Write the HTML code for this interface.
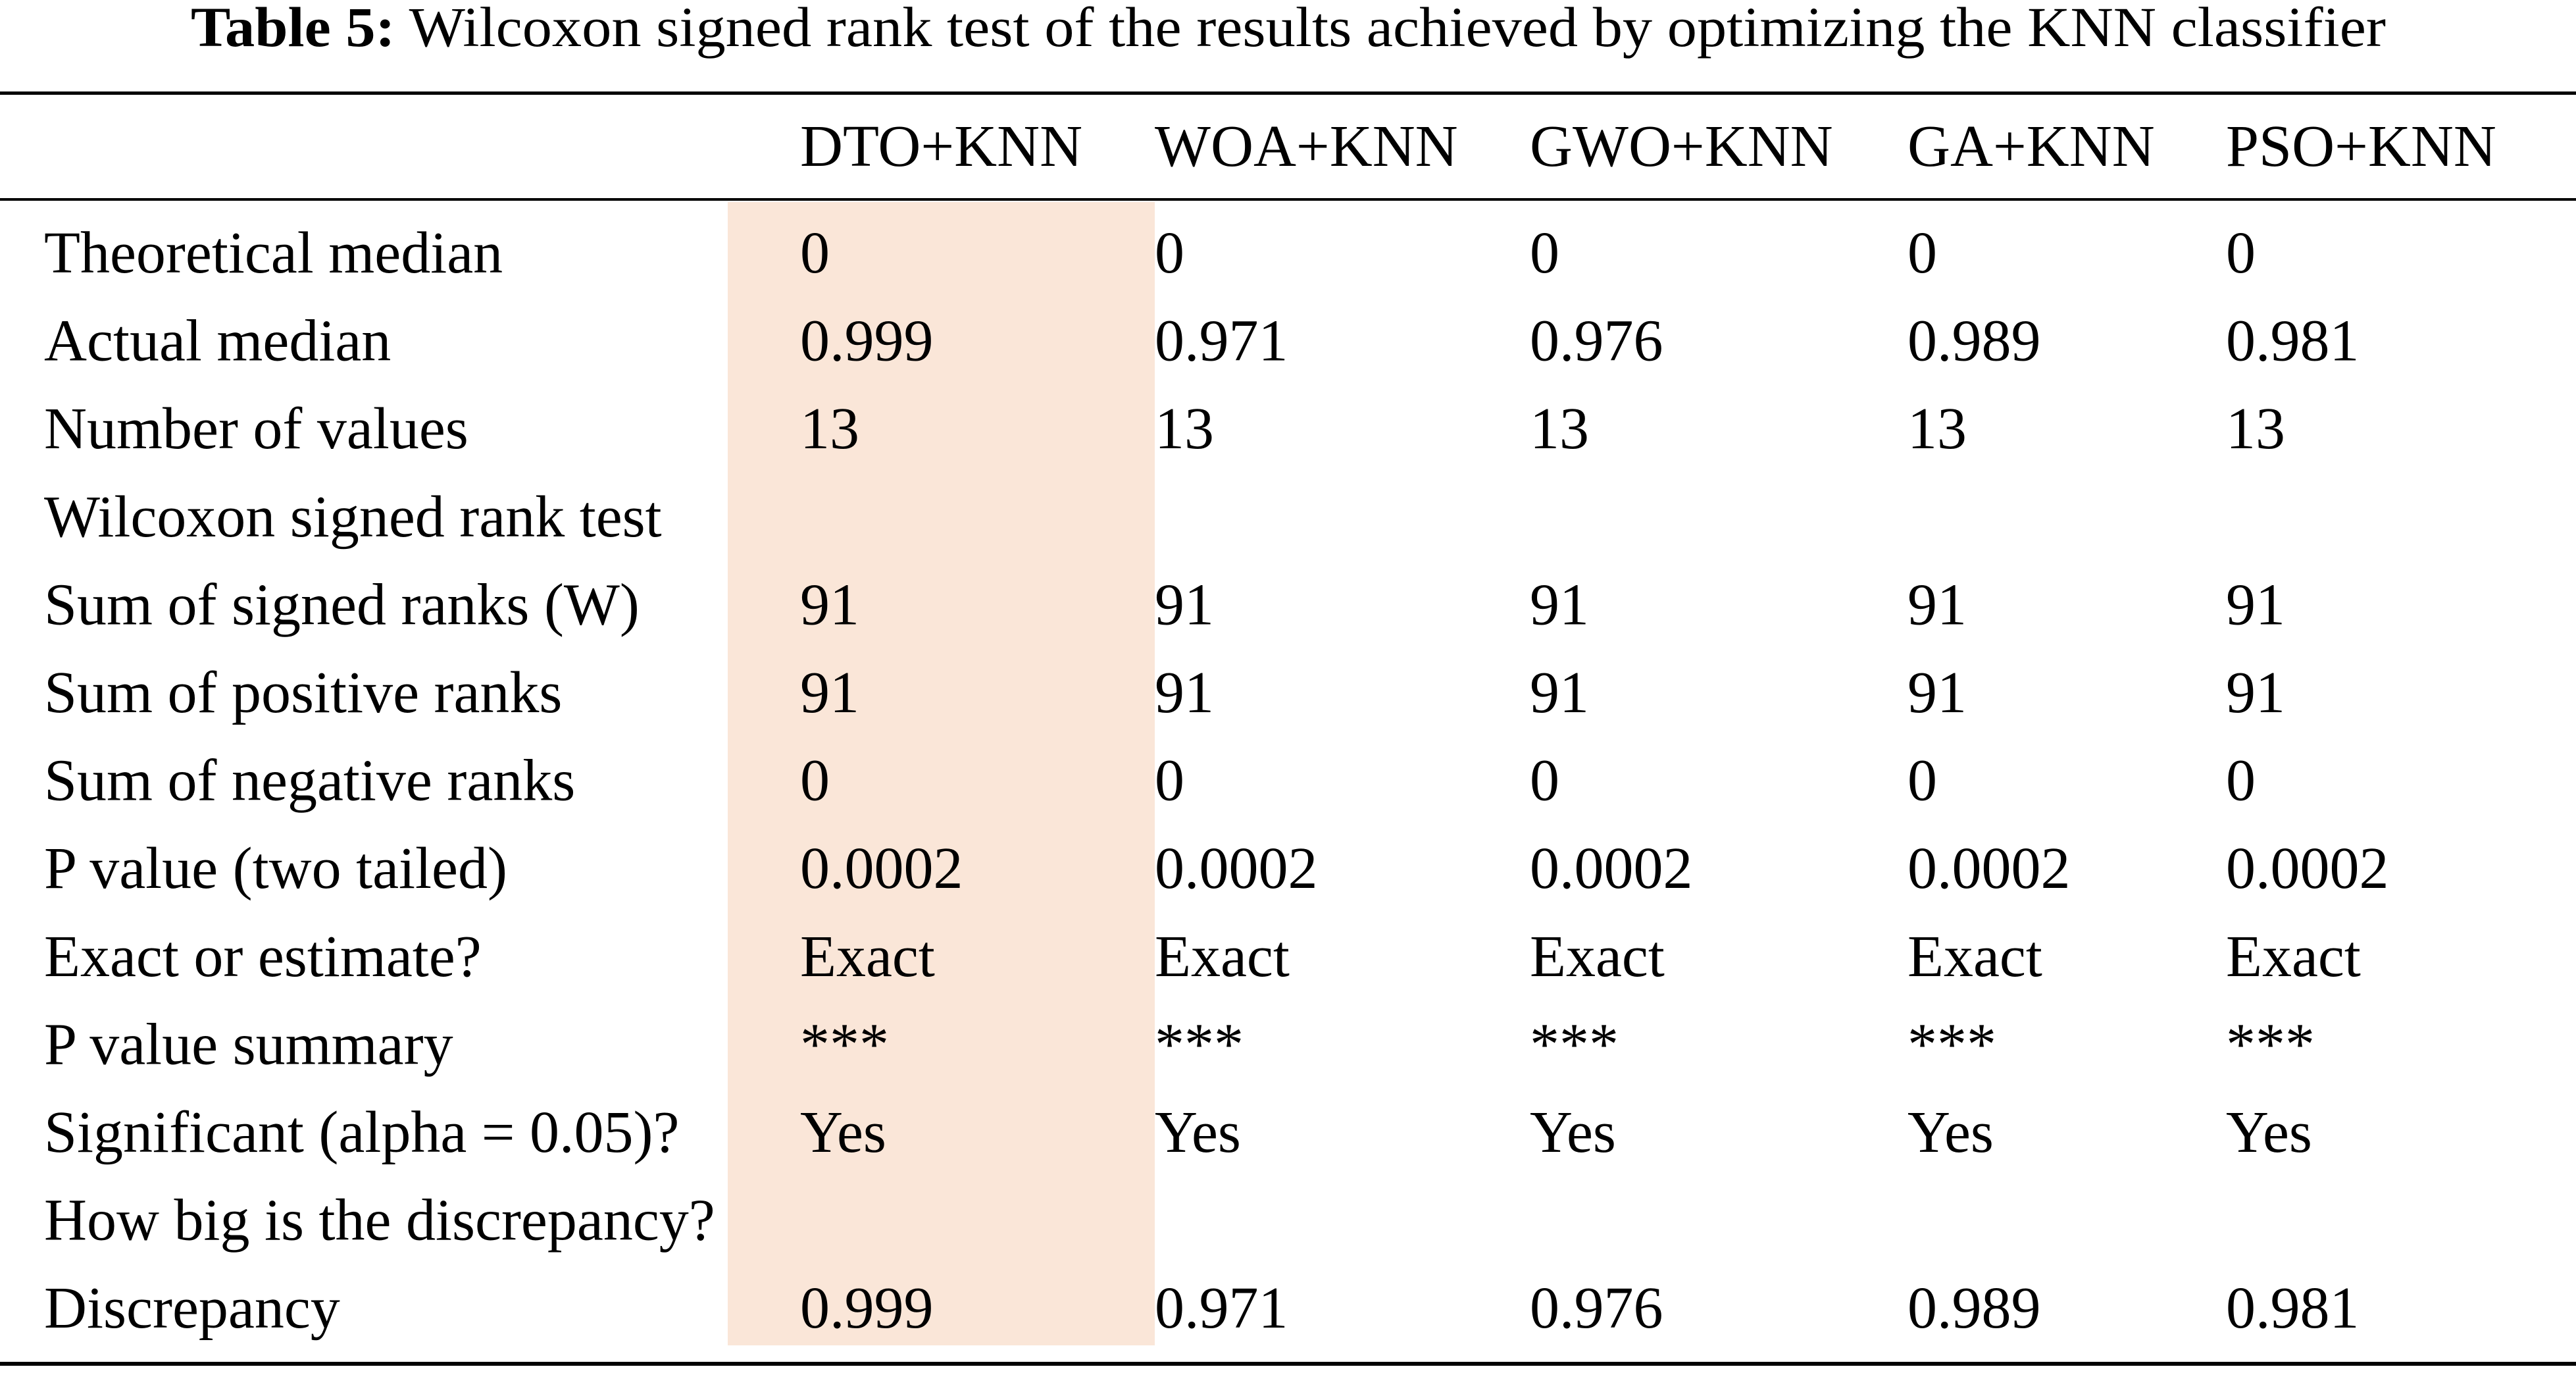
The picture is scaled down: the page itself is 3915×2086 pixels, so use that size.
<!DOCTYPE html>
<html><head><meta charset="utf-8"><style>
html,body{margin:0;padding:0;background:#fff;}
svg{display:block;}
text{font-family:"Liberation Serif",serif;font-size:90px;fill:#000;}
</style></head><body>
<svg width="3915" height="2086" viewBox="0 0 3915 2086">
<text x="1958" y="70" text-anchor="middle" textLength="3336" lengthAdjust="spacingAndGlyphs" style="font-size:86px"><tspan font-weight="bold">Table 5:</tspan>  Wilcoxon signed rank test of the results achieved by optimizing the KNN classifier</text>
<rect x="0" y="139" width="3915" height="5" fill="#000"/>
<rect x="1106" y="307" width="649" height="1737" fill="#FAE6D8"/>
<rect x="0" y="301" width="3915" height="4" fill="#000"/>
<rect x="0" y="2069" width="3915" height="6" fill="#000"/>
<g id="hdr"></g>
<g id="body"></g>
</svg>
<script>
const headers=["DTO+KNN","WOA+KNN","GWO+KNN","GA+KNN","PSO+KNN"];
const labels=["Theoretical median","Actual median","Number of values","Wilcoxon signed rank test","Sum of signed ranks (W)","Sum of positive ranks","Sum of negative ranks","P value (two tailed)","Exact or estimate?","P value summary","Significant (alpha = 0.05)?","How big is the discrepancy?","Discrepancy"];
const dto=["0","0.999","13","","91","91","0","0.0002","Exact","***","Yes","","0.999"];
const woa=["0","0.971","13","","91","91","0","0.0002","Exact","***","Yes","","0.971"];
const gwo=["0","0.976","13","","91","91","0","0.0002","Exact","***","Yes","","0.976"];
const ga=["0","0.989","13","","91","91","0","0.0002","Exact","***","Yes","","0.989"];
const pso=["0","0.981","13","","91","91","0","0.0002","Exact","***","Yes","","0.981"];
const cols=[dto,woa,gwo,ga,pso];
const colX=[1216,1755,2325,2899,3383];
const NS="http://www.w3.org/2000/svg";
function txt(parent,x,y,s){const t=document.createElementNS(NS,"text");t.setAttribute("x",x);t.setAttribute("y",y);t.textContent=s;parent.appendChild(t);return t;}
const hdr=document.getElementById("hdr");
headers.forEach((h,i)=>{const t=txt(hdr,colX[i],252,h);

});
const body=document.getElementById("body");
labels.forEach((l,r)=>{const y=414+r*133.6;
const t=txt(body,67,y,l);


cols.forEach((c,i)=>{if(c[r]!==""){const v=txt(body,colX[i],y,c[r]);

}});});
</script>
</body></html>
